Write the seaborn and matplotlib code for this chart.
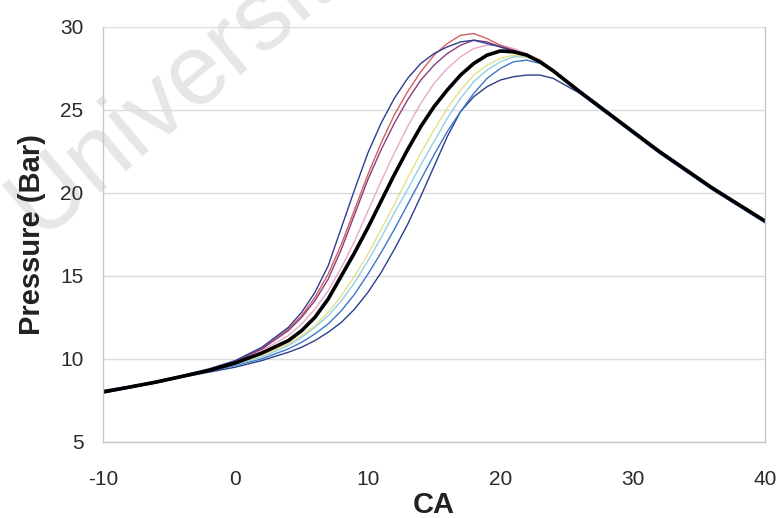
import numpy as np
import pandas as pd
import matplotlib
matplotlib.use("Agg")
import matplotlib.pyplot as plt
import seaborn as sns

# -------------------- DATA --------------------
crank_angle = [-10, -8, -6, -4, -2, 0, 2, 4, 5, 6, 7, 8, 9, 10, 11, 12, 13, 14, 15,
               16, 17, 18, 19, 20, 21, 22, 23, 24, 26, 28, 30, 32, 34, 36, 38, 40]

mean_pressure = [8.0, 8.3, 8.6, 8.95, 9.3, 9.75, 10.35, 11.1, 11.7, 12.5, 13.6, 15.0,
                 16.4, 17.9, 19.5, 21.1, 22.6, 24.0, 25.2, 26.2, 27.1, 27.8, 28.3, 28.55,
                 28.5, 28.3, 27.9, 27.35, 26.1, 24.9, 23.7, 22.5, 21.4, 20.3, 19.3, 18.3]

cycle_a = [8.1, 8.35, 8.65, 9.0, 9.4, 9.9, 10.7, 11.9, 12.8, 14.0, 15.6, 17.9,
           20.2, 22.4, 24.2, 25.7, 26.9, 27.8, 28.4, 28.8, 29.1, 29.2, 29.0, 28.8,
           28.5, 28.3, 27.9, 27.4, 26.1, 24.9, 23.7, 22.5, 21.4, 20.3, 19.3, 18.3]
cycle_b = [8.05, 8.3, 8.6, 8.95, 9.35, 9.85, 10.6, 11.7, 12.5, 13.5, 14.8, 16.6,
           18.7, 20.8, 22.6, 24.2, 25.6, 26.8, 27.7, 28.4, 28.9, 29.2, 29.1, 28.8,
           28.6, 28.3, 27.9, 27.4, 26.1, 24.9, 23.7, 22.5, 21.4, 20.3, 19.3, 18.3]
cycle_c = [8.05, 8.3, 8.6, 8.95, 9.35, 9.85, 10.6, 11.8, 12.6, 13.7, 15.1, 16.9,
           19.0, 21.1, 23.0, 24.7, 26.1, 27.3, 28.3, 29.0, 29.5, 29.6, 29.3, 28.9,
           28.6, 28.3, 27.9, 27.4, 26.1, 24.9, 23.7, 22.5, 21.4, 20.3, 19.3, 18.3]
cycle_d = [8.0, 8.3, 8.6, 8.95, 9.3, 9.8, 10.5, 11.4, 12.1, 13.0, 14.1, 15.5,
           17.1, 18.9, 20.7, 22.4, 24.0, 25.4, 26.6, 27.5, 28.2, 28.7, 28.9, 28.9,
           28.7, 28.4, 28.0, 27.4, 26.1, 24.9, 23.7, 22.5, 21.4, 20.3, 19.3, 18.3]
cycle_e = [8.0, 8.3, 8.6, 8.95, 9.3, 9.7, 10.2, 10.9, 11.4, 12.0, 12.8, 13.8,
           15.0, 16.3, 17.8, 19.3, 20.9, 22.4, 23.8, 25.1, 26.2, 27.1, 27.7, 28.1,
           28.3, 28.2, 27.9, 27.4, 26.1, 24.9, 23.7, 22.5, 21.4, 20.3, 19.3, 18.3]
cycle_f = [8.0, 8.3, 8.6, 8.95, 9.3, 9.65, 10.1, 10.8, 11.3, 11.9, 12.6, 13.5,
           14.6, 15.9, 17.3, 18.8, 20.2, 21.7, 23.1, 24.5, 25.7, 26.7, 27.4, 27.9,
           28.2, 28.2, 27.9, 27.4, 26.1, 24.9, 23.7, 22.5, 21.4, 20.3, 19.3, 18.3]
cycle_g = [7.95, 8.25, 8.55, 8.9, 9.25, 9.6, 10.0, 10.6, 11.0, 11.5, 12.1, 12.9,
           13.9, 15.1, 16.4, 17.8, 19.3, 20.8, 22.3, 23.7, 24.9, 26.0, 26.9, 27.5,
           27.9, 28.0, 27.8, 27.3, 26.0, 24.8, 23.6, 22.4, 21.3, 20.2, 19.2, 18.2]
cycle_h = [7.95, 8.25, 8.55, 8.9, 9.2, 9.5, 9.9, 10.4, 10.7, 11.1, 11.6, 12.2,
           13.0, 14.0, 15.2, 16.6, 18.1, 19.8, 21.6, 23.4, 24.9, 25.8, 26.4, 26.8,
           27.0, 27.1, 27.1, 26.9, 26.0, 24.8, 23.6, 22.4, 21.3, 20.2, 19.2, 18.2]

cycle_names = ["h", "g", "f", "e", "d", "c", "b", "a"]
cycle_values = [cycle_h, cycle_g, cycle_f, cycle_e, cycle_d, cycle_c, cycle_b, cycle_a]
cycle_colors = ["#2a3f8a", "#3d77c9", "#8fd0e6", "#e6df8a",
                "#e9a8c8", "#d0605e", "#8a3d7e", "#2e3d8f"]

x_ticks = [-10, 0, 10, 20, 30, 40]
y_ticks = [5, 10, 15, 20, 25, 30]

# -------------------- LONG TABLE --------------------
df = pd.concat(
    [pd.DataFrame({"CA": crank_angle, "P": vals, "cycle": name})
     for name, vals in zip(cycle_names, cycle_values)],
    ignore_index=True,
)
mean_df = pd.DataFrame({"CA": crank_angle, "P": mean_pressure})

# -------------------- PLOT --------------------
sns.set_style("white")
plt.rcParams["font.family"] = ["Liberation Sans", "DejaVu Sans"]
plt.rcParams["axes.unicode_minus"] = False

fig = plt.figure(figsize=(7.8, 5.18), dpi=100)
ax = fig.add_axes([0.132, 0.147, 0.849, 0.801])

# watermark behind everything (clipped by the figure edge, as in the source)
fig.text(0.050, 0.5405, "Universit", rotation=40, rotation_mode="anchor",
         ha="left", va="baseline", fontsize=72, color="#e6e6e6", zorder=-1)
ax.patch.set_alpha(0)

sns.lineplot(data=df, x="CA", y="P", hue="cycle", hue_order=cycle_names,
             palette=dict(zip(cycle_names, cycle_colors)), linewidth=1.0,
             legend=False, ax=ax, sort=True, estimator=None)
sns.lineplot(data=mean_df, x="CA", y="P", color="black", linewidth=2.6,
             ax=ax, estimator=None)

ax.set_xlim(-10, 40)
ax.set_ylim(5, 30)
ax.set_xticks(x_ticks)
ax.set_yticks(y_ticks)
ax.yaxis.grid(True, color="#dcdcdc", linewidth=1.0)
ax.set_axisbelow(True)

for side in ["left", "bottom", "right"]:
    ax.spines[side].set_color("#c8c8c8")
    ax.spines[side].set_linewidth(1.0)
ax.spines["top"].set_visible(False)

ax.tick_params(axis="both", which="major", labelsize=15, labelcolor="#2a2a2a",
               color="#c8c8c8", length=3, direction="in")
ax.tick_params(axis="y", pad=14)
ax.tick_params(axis="x", pad=20)

ax.set_xlabel("CA", fontsize=21, fontweight="bold", color="#222222", labelpad=2)
ax.set_ylabel("Pressure (Bar)", fontsize=21, fontweight="bold", color="#222222",
              labelpad=10)

fig.savefig("out.png", dpi=100)
